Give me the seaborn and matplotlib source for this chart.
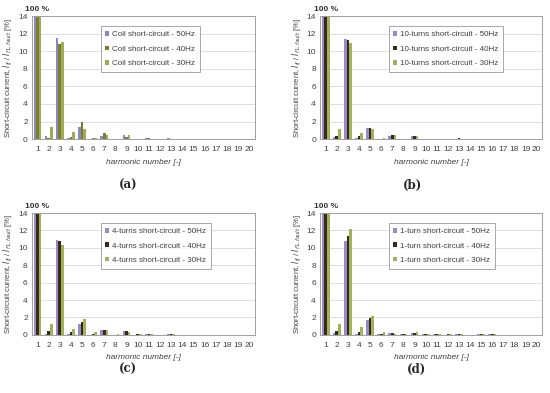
import numpy as np
import pandas as pd
import matplotlib
matplotlib.use("Agg")
import matplotlib.pyplot as plt
import seaborn as sns

harmonics = list(range(1, 21))

# values in % of fundamental (fundamental = 100 %, clipped at 14 on the axis)
coil_50 = [100, 0.4, 11.5, 0.15, 1.4, 0.05, 0.4, 0.05, 0.45, 0.05, 0.1, 0.02, 0.1, 0.02, 0.02, 0.02, 0.02, 0.02, 0.02, 0.02]
coil_40 = [100, 0.15, 10.8, 0.2, 2.0, 0.1, 0.7, 0.05, 0.2, 0.05, 0.1, 0.02, 0.05, 0.02, 0.02, 0.02, 0.02, 0.02, 0.02, 0.02]
coil_30 = [100, 1.4, 11.0, 0.8, 1.2, 0.1, 0.5, 0.05, 0.5, 0.05, 0.05, 0.02, 0.05, 0.02, 0.02, 0.02, 0.02, 0.02, 0.02, 0.02]

t10_50 = [100, 0.2, 11.4, 0.1, 1.3, 0.02, 0.3, 0.02, 0.4, 0.05, 0.05, 0.02, 0.05, 0.01, 0.01, 0.01, 0.01, 0.01, 0.01, 0.01]
t10_40 = [100, 0.4, 11.3, 0.3, 1.25, 0.05, 0.45, 0.05, 0.4, 0.05, 0.05, 0.02, 0.1, 0.01, 0.01, 0.01, 0.01, 0.01, 0.01, 0.01]
t10_30 = [100, 1.2, 10.9, 0.7, 1.2, 0.1, 0.5, 0.05, 0.4, 0.05, 0.02, 0.02, 0.02, 0.01, 0.01, 0.01, 0.01, 0.01, 0.01, 0.01]

t4_50 = [100, 0.15, 10.9, 0.1, 1.3, 0.02, 0.5, 0.02, 0.4, 0.02, 0.1, 0.02, 0.05, 0.02, 0.02, 0.01, 0.01, 0.01, 0.01, 0.01]
t4_40 = [100, 0.45, 10.8, 0.3, 1.5, 0.05, 0.55, 0.02, 0.4, 0.05, 0.15, 0.02, 0.05, 0.02, 0.02, 0.01, 0.01, 0.01, 0.01, 0.01]
t4_30 = [100, 1.3, 10.3, 0.7, 1.8, 0.3, 0.5, 0.05, 0.35, 0.1, 0.1, 0.02, 0.1, 0.02, 0.02, 0.01, 0.01, 0.01, 0.01, 0.01]

t1_50 = [100, 0.2, 10.8, 0.1, 1.7, 0.05, 0.25, 0.05, 0.2, 0.05, 0.1, 0.02, 0.1, 0.02, 0.05, 0.05, 0.01, 0.01, 0.01, 0.01]
t1_40 = [100, 0.45, 11.4, 0.35, 1.9, 0.1, 0.25, 0.05, 0.2, 0.05, 0.1, 0.05, 0.1, 0.02, 0.05, 0.05, 0.01, 0.01, 0.01, 0.01]
t1_30 = [100, 1.3, 12.2, 0.85, 2.2, 0.35, 0.15, 0.1, 0.3, 0.15, 0.1, 0.1, 0.05, 0.02, 0.1, 0.05, 0.01, 0.01, 0.01, 0.01]

panels = [
    ("(a)", "Coil short-circuit", [coil_50, coil_40, coil_30], ["#7f7fcc", "#8c8c1e", "#a8b84a"]),
    ("(b)", "10-turns short-circuit", [t10_50, t10_40, t10_30], ["#8f7fd6", "#3d2b12", "#a9c04c"]),
    ("(c)", "4-turns short-circuit", [t4_50, t4_40, t4_30], ["#8f7fd6", "#3d2b12", "#a9c04c"]),
    ("(d)", "1-turn short-circuit", [t1_50, t1_40, t1_30], ["#8f7fd6", "#3d2b12", "#a9c04c"]),
]
freqs = ["50Hz", "40Hz", "30Hz"]

sns.set_theme(style="white")
plt.rcParams["font.family"] = ["Liberation Sans", "DejaVu Sans"]

fig = plt.figure(figsize=(5.5, 3.93), dpi=100)
rects = [
    [0.058, 0.646, 0.405, 0.313],
    [0.582, 0.646, 0.404, 0.313],
    [0.058, 0.148, 0.405, 0.310],
    [0.582, 0.148, 0.404, 0.310],
]
label_pos = [(0.233, 0.519), (0.75, 0.519), (0.233, 0.052), (0.758, 0.052)]

for (tag, name, series, cols), rect, lp in zip(panels, rects, label_pos):
    rows = []
    for f, vals in zip(freqs, series):
        for h, v in zip(harmonics, vals):
            rows.append({"harmonic": h, "value": v, "series": f"{name} - {f}"})
    df = pd.DataFrame(rows)

    ax = fig.add_axes(rect)
    sns.barplot(data=df, x="harmonic", y="value", hue="series", palette=cols,
                width=0.7, ax=ax, linewidth=0)
    ax.set_ylim(0, 14)
    ax.set_yticks(range(0, 15, 2))
    ax.yaxis.grid(True, color="#d9d9d9", linewidth=0.6)
    ax.set_axisbelow(True)
    for s in ax.spines.values():
        s.set_color("#a0a0a0")
        s.set_linewidth(0.7)
    ax.tick_params(axis="x", labelsize=6, colors="#404040", length=0, pad=5)
    ax.tick_params(axis="y", labelsize=6, colors="#404040", length=0, pad=3)
    ax.set_xlabel("harmonic number [-]", fontsize=6, style="italic", color="#404040",
                  labelpad=4)
    ax.set_ylabel(r"Short-circuit current, $I_{fj}$ / $I_{f1,fault}$ [%]", fontsize=5.5,
                  color="#404040", labelpad=2)
    ax.text(0, 14.6, "100 %", fontsize=6, fontweight="bold", color="#303030", ha="center")
    leg = ax.legend(loc="upper left", bbox_to_anchor=(0.29, 0.95), fontsize=5.8,
                    frameon=True, fancybox=False, edgecolor="#808080",
                    handlelength=0.5, handleheight=0.5, handletextpad=0.3,
                    borderpad=0.6, labelspacing=0.9)
    leg.get_frame().set_linewidth(0.6)
    for t in leg.get_texts():
        t.set_color("#404040")
    fig.text(lp[0], lp[1], tag, fontsize=8.5, fontweight="bold", ha="center",
             family=["DejaVu Serif"])

fig.savefig("out.png", dpi=100)
